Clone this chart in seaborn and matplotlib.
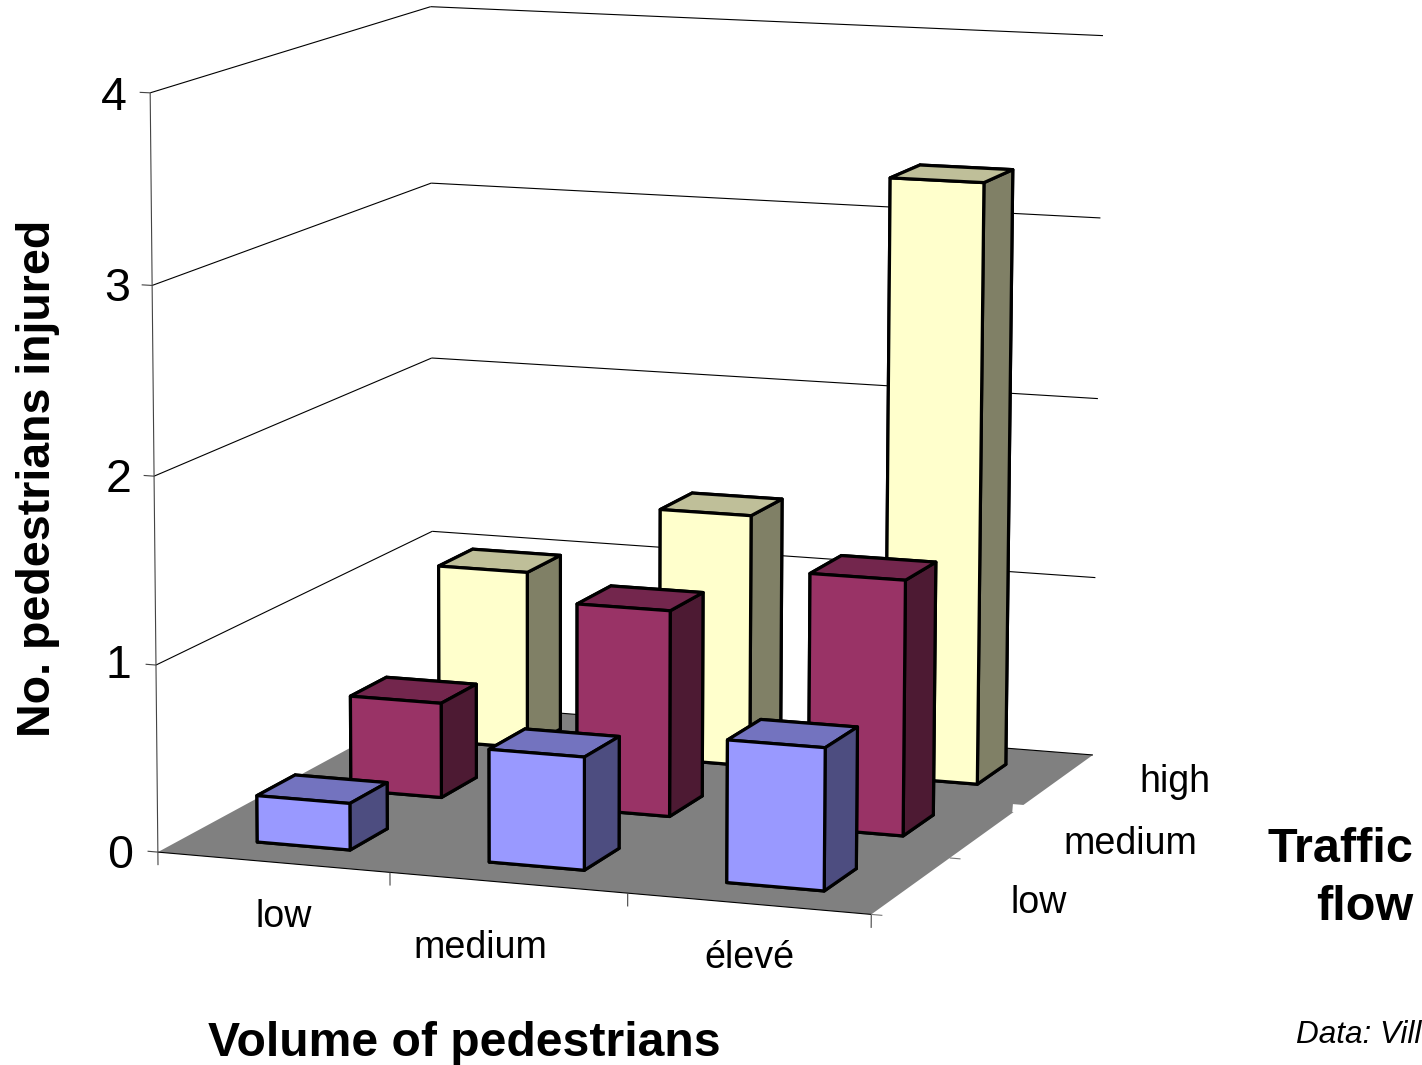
import numpy as np
import matplotlib
matplotlib.use("Agg")
import matplotlib.pyplot as plt
from mpl_toolkits.mplot3d.art3d import Poly3DCollection
import seaborn as sns

# Injured pedestrians by pedestrian volume (columns) and traffic flow (rows)
volume_labels = ["low", "medium", "élevé"]
traffic_labels = ["low", "medium", "high"]
injured_low_traffic = [0.25, 0.60, 0.75]
injured_medium_traffic = [0.52, 1.12, 1.375]
injured_high_traffic = [0.995, 1.40, 3.30]
value_ticks = [0, 1, 2, 3, 4]
series_colors = ["#9999FF", "#993366", "#FFFFCC"]

W, H = 1422, 1065
BAR_X, BAR_Y = 0.305, 0.30    # offset of a column inside its floor cell
BAR_W, BAR_D = 0.403, 0.40    # column footprint

sns.set_theme(style="white")
plt.rcParams["font.family"] = ["Liberation Sans", "DejaVu Sans"]

# Camera calibration: chart-space corners (volume, traffic, value) and image position
cal_world = np.array([
    [0, 0, 0], [3, 0, 0], [3, 3, 0], [0, 3, 0],
    [0, 0, 1], [0, 0, 2], [0, 0, 3], [0, 0, 4],
    [0, 3, 1], [0, 3, 2], [0, 3, 3], [0, 3, 4],
    [3, 3, 1], [3, 3, 2], [3, 3, 3], [3, 3, 4]], float)
cal_image = np.array([
    [159, 853], [873, 913], [1092, 757], [432, 703],
    [156, 664], [153, 476], [150.5, 285], [150, 95],
    [432, 531], [432, 357], [432, 184], [432, 6],
    [1095, 578], [1098, 398], [1100, 218], [1103, 35]], float)


def fit_camera(world, image):
    rows, rhs = [], []
    for (x, y, z), (u, v) in zip(world, image):
        rows.append([x, y, z, 1, 0, 0, 0, 0, -u * x, -u * y, -u * z])
        rows.append([0, 0, 0, 0, x, y, z, 1, -v * x, -v * y, -v * z])
        rhs += [u, v]
    p = np.linalg.lstsq(np.array(rows), np.array(rhs), rcond=None)[0]
    return np.append(p, 1.0).reshape(3, 4)


camera = fit_camera(cal_world, cal_image)

fig = plt.figure(figsize=(W / 100, H / 100), dpi=100, facecolor="white")
ax = fig.add_axes([0, 0, 1, 1], projection="3d", computed_zorder=False)
ax.set_axis_off()
ax.patch.set_visible(False)
ax.apply_aspect = lambda position=None: None


def chart_projection():
    flip = np.array([[1, 0, 0], [0, -1, H], [0, 0, 1]], float)
    to_data = ax.transData.inverted().get_matrix()
    p = to_data @ flip @ camera
    return np.array([p[0], p[1], [0, 0, 0, -1], p[2]])


ax.get_proj = chart_projection


def line3d(start, end, color="black", lw=0.8, z=1):
    xs, ys, zs = zip(start, end)
    ax.plot(xs, ys, zs, color=color, lw=lw, zorder=z, solid_capstyle="butt")


# Walls: one line per value level, then the vertical value axis
for v in value_ticks:
    if v > 0:
        line3d((0, 0, v), (0, 3, v))
        line3d((0, 3, v), (3, 3, v))
    line3d((-0.045, 0, v), (0, 0, v), color="#444444")
line3d((0, 0, 0), (0, 0, 4), color="#444444")

# Floor
floor = Poly3DCollection([[(0, 0, 0), (3, 0, 0), (3, 3, 0), (0, 3, 0)]],
                         facecolors="#808080", edgecolors="none", zorder=2)
ax.add_collection3d(floor)
line3d((0, 0, 0), (3, 0, 0), z=3)
line3d((0, 3, 0), (3, 3, 0), z=3)

# Ticks below the front edge and beside the right edge
for i in range(4):
    line3d((i, 0, 0), (i, 0, -0.07), color="#444444", z=3)
for j in (0, 1):
    line3d((3, j, 0), (3.045, j, 0), color="#777777", z=3)
# The upper traffic tick is a short white notch cut into the floor edge
line3d((2.975, 1.93, 0), (3.025, 1.93, 0), color="white", lw=5.7, z=3)

# Columns, drawn from the back row forward and left to right
rows = [injured_low_traffic, injured_medium_traffic, injured_high_traffic]
for j in (2, 1, 0):
    base = np.array(sns.color_palette([series_colors[j]], 1)[0])
    # bottom, top, front, back, left, right
    faces = [base * 0.5, base * 0.75, base, base * 0.5, base * 0.5, base * 0.5]
    for i, value in enumerate(rows[j]):
        ax.bar3d(i + BAR_X, j + BAR_Y, 0, BAR_W, BAR_D, value,
                 color=faces, edgecolor="black", linewidth=2.3, shade=False,
                 zorder=10 + (2 - j) * 3 + i)


def label(x, y, text, **kw):
    fig.text(x / W, 1 - y / H, text, ha=kw.pop("ha", "center"), va=kw.pop("va", "center"), **kw)


for v, (x, y) in zip(value_ticks, [(133, 856), (131, 666), (132, 480), (130, 289), (127, 98)]):
    label(x, y, str(v), ha="right", fontsize=33.5, color="black")

for text, (x, y) in zip(volume_labels, [(284, 917), (480, 948), (749, 958)]):
    label(x, y, text, fontsize=27.1, color="black")
for text, (x, y) in zip(traffic_labels, [(1039, 903), (1130, 844), (1175, 782)]):
    label(x, y, text, fontsize=27.1, color="black")

label(464, 1044, "Volume of pedestrians", fontsize=34.7, fontweight="bold", color="black")
label(38, 478, "No. pedestrians injured", fontsize=33.5, fontweight="bold", rotation=90, color="black")
label(1413, 850, "Traffic", ha="right", fontsize=35, fontweight="bold", color="black")
label(1413, 908, "flow", ha="right", fontsize=35, fontweight="bold", color="black")
label(1421, 1035, "Data: Vill", ha="right", fontsize=22.7, fontstyle="italic", color="black")

fig.savefig("out.png", dpi=100, facecolor="white")
